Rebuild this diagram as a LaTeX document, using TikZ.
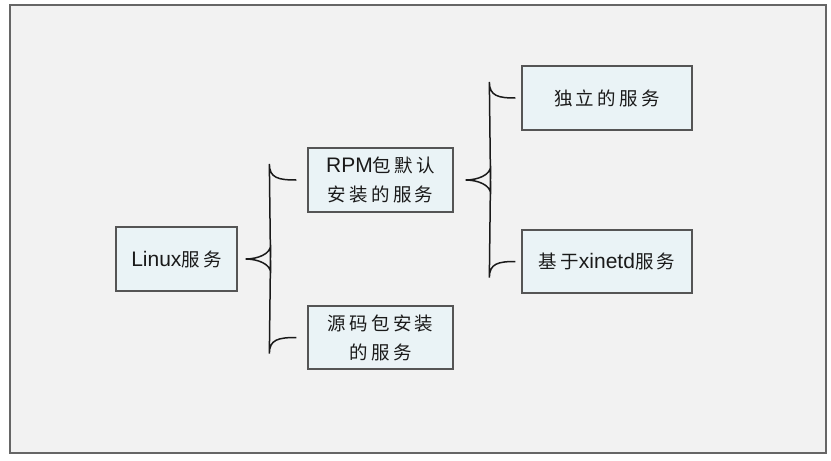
\documentclass[tikz,border=0pt]{standalone}
\usepackage{fontspec}
\setmainfont{Liberation Sans}
\newfontfamily\cjk[Scale=0.88,LetterSpace=18]{Noto Sans CJK SC}
\definecolor{bgfill}{HTML}{F2F2F2}
\definecolor{framecol}{HTML}{666666}
\definecolor{boxfill}{HTML}{EAF3F6}
\definecolor{boxline}{HTML}{555555}
\definecolor{txt}{HTML}{1A1A1A}
\begin{document}
\begin{tikzpicture}[x=1pt,y=-1pt,
  itembox/.style={draw=boxline,fill=boxfill,line width=1.3pt,inner sep=0pt,
    align=center,text=txt,font=\fontsize{21}{29}\selectfont},
  brace/.style={draw=txt,line width=1.5pt}]
\useasboundingbox (0,0) rectangle (831,461);
\fill[white] (0,0) rectangle (831,461);
\draw[fill=bgfill,draw=framecol,line width=1.5pt] (10,5) rectangle (826,453);
\node[itembox,minimum width=121pt,minimum height=64pt] (lin) at (176.5,259) {Linux{\cjk 服务}};
\node[itembox,minimum width=145pt,minimum height=64pt] (rpm) at (380.5,180) {RPM{\cjk 包默认}\\{\cjk 安装的服务}};
\node[itembox,minimum width=145pt,minimum height=63pt] (src) at (380.5,337.5) {{\cjk 源码包安装}\\{\cjk 的服务}};
\node[itembox,minimum width=170pt,minimum height=64pt] (ind) at (607,98) {{\cjk 独立的服务}};
\node[itembox,minimum width=170pt,minimum height=63pt] (xin) at (607,261.5) {{\cjk 基于}xinetd{\cjk 服务}};
% brace 1
\coordinate (b1t) at ([xshift=-11pt]rpm.west);
\coordinate (b1b) at ([xshift=-11pt]src.west);
\coordinate (b1tip) at ([xshift=8pt]lin.east);
\draw[brace] (b1t) .. controls ([xshift=-18pt]b1t) and ([xshift=-27pt,yshift=2pt]b1t) .. ([xshift=-27pt,yshift=16pt]b1t)
  -- ([xshift=25pt,yshift=-14pt]b1tip) .. controls ([xshift=25pt,yshift=-5pt]b1tip) and ([xshift=12pt]b1tip) .. (b1tip)
  .. controls ([xshift=12pt]b1tip) and ([xshift=25pt,yshift=5pt]b1tip) .. ([xshift=25pt,yshift=14pt]b1tip)
  -- ([xshift=-27pt,yshift=-16pt]b1b) .. controls ([xshift=-27pt,yshift=-2pt]b1b) and ([xshift=-18pt]b1b) .. (b1b);
% brace 2
\coordinate (b2t) at ([xshift=-6pt]ind.west);
\coordinate (b2b) at ([xshift=-6pt]xin.west);
\coordinate (b2tip) at ([xshift=12pt]rpm.east);
\draw[brace] (b2t) .. controls ([xshift=-17pt]b2t) and ([xshift=-26pt,yshift=2pt]b2t) .. ([xshift=-26pt,yshift=16pt]b2t)
  -- ([xshift=25pt,yshift=-14pt]b2tip) .. controls ([xshift=25pt,yshift=-5pt]b2tip) and ([xshift=12pt]b2tip) .. (b2tip)
  .. controls ([xshift=12pt]b2tip) and ([xshift=25pt,yshift=5pt]b2tip) .. ([xshift=25pt,yshift=14pt]b2tip)
  -- ([xshift=-26pt,yshift=-16pt]b2b) .. controls ([xshift=-26pt,yshift=-2pt]b2b) and ([xshift=-17pt]b2b) .. (b2b);
\end{tikzpicture}
\end{document}
